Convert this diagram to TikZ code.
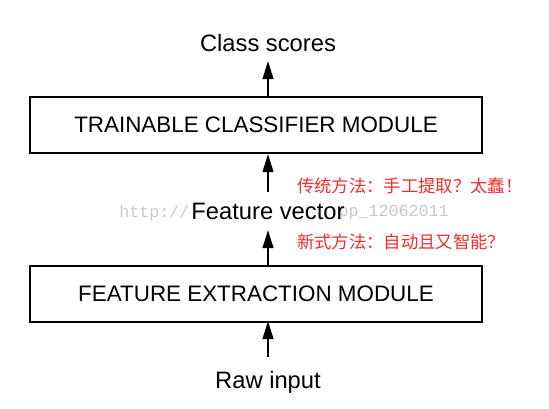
\documentclass[tikz,border=0pt]{standalone}
\usepackage{fontspec}
\setmainfont{Liberation Sans}
\newfontfamily\cjk{Noto Sans CJK SC}
\newfontfamily\wmfont{Liberation Mono}
\usetikzlibrary{arrows.meta}
\definecolor{cnred}{RGB}{240,45,45}
\definecolor{wmgray}{RGB}{200,200,200}
\begin{document}
\begin{tikzpicture}[x=0.75pt,y=-0.75pt,
  modbox/.style={draw=black,line width=1.6pt,minimum width=452*0.75pt,minimum height=56*0.75pt,inner sep=0pt,font=\fontsize{16.8}{18}\selectfont},
  lbl/.style={font=\fontsize{17.8}{20}\selectfont,inner sep=0pt},
  cn/.style={font=\cjk\fontsize{13}{14}\selectfont,text=cnred,anchor=west,inner sep=0pt},
  wm/.style={font=\wmfont\fontsize{12.5}{14}\selectfont,text=wmgray,inner sep=0pt},
  flow/.style={line width=1.5pt,-{Triangle[length=13.5pt,width=8pt]}}]
\useasboundingbox (0,0) rectangle (549,408);
\node[wm,anchor=west] (wm1) at (119,213) {http://};
\node[wm,anchor=east] (wm2) at (449,213) {pp\_12062011};
\node[lbl] (cls) at (268,43) {Class scores};
\node[modbox] (tc) at (256,125) {TRAINABLE CLASSIFIER MODULE};
\node[lbl] (fv) at (268,211) {Feature vector};
\node[modbox] (fe) at (256,294) {FEATURE EXTRACTION MODULE};
\node[lbl] (raw) at (268,382) {Raw input};
\coordinate (a1s) at (268,97);  \coordinate (a1e) at (268,61);
\coordinate (a2s) at (268,192); \coordinate (a2e) at (268,154);
\coordinate (a3s) at (268,266); \coordinate (a3e) at (268,230);
\coordinate (a4s) at (268,357); \coordinate (a4e) at (268,321);
\draw[flow] (a1s) -- (a1e);
\draw[flow] (a2s) -- (a2e);
\draw[flow] (a3s) -- (a3e);
\draw[flow] (a4s) -- (a4e);
\node[cn] (c1) at (297,186) {传统方法：手工提取？太蠢！};
\node[cn] (c2) at (297,242) {新式方法：自动且又智能？};
\end{tikzpicture}
\end{document}
